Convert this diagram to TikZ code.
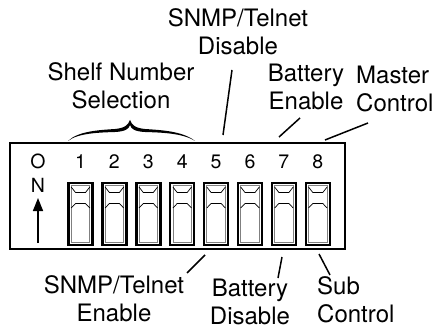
\documentclass[tikz,border=0pt]{standalone}
\usepackage{fontspec}
\setmainfont{TeX Gyre Heros}
\usetikzlibrary{arrows.meta}

\tikzset{
	lbl/.style={font=\fontsize{24}{28}\selectfont, inner sep=0pt},
	num/.style={font=\fontsize{19.5}{23}\selectfont, inner sep=0pt},
	lead/.style={line width=1.5pt}
}

\begin{document}
\begin{tikzpicture}[x=1pt,y=-1pt]
		\useasboundingbox (0,0) rectangle (436,331);
		% housing
		\draw[line width=2.5pt] (10,143) rectangle (345,249);
		\node[num] (O) at (38,161.5) {O};
		\node[num] (N) at (38,185) {N};
		\coordinate (arrbot) at (38,243);
		\coordinate (arrtop) at (38,198);
		\draw[line width=1.5pt,-{Triangle[length=13pt,width=10pt]}] (arrbot) -- (arrtop);
		% switches
		\foreach \i in {1,...,8} {
			\pgfmathsetmacro\cx{46.6+33.9*\i}
			\node[num] (n\i) at (\cx,161.5) {\i};
			\draw[line width=2.4pt] ({\cx-12},183) rectangle ({\cx+12},245);
			\draw[gray,line width=0.8pt] ({\cx-9.3},185.7) rectangle ({\cx+9.3},242.3);
			\draw[line width=0.7pt] ({\cx-9.3},187) -- ({\cx-5},192.5) -- ({\cx+5},192.5) -- ({\cx+9.3},187);
			\draw[line width=0.7pt] ({\cx-9.3},208) -- ({\cx-5},203.5) -- ({\cx+5},203.5) -- ({\cx+9.3},208);
		}
		% labels above
		\node[lbl,align=center] (snmpdis) at (238,32) {SNMP/Telnet\\Disable};
		\node[lbl,align=center] (shelf) at (121,86) {Shelf Number\\Selection};
		\node[lbl,align=center] (batten) at (306,87) {Battery\\Enable};
		\node[lbl,align=left,anchor=west] (master) at (356,89) {Master\\Control};
		% brace over switches 1 to 4
		\fill (68,141) .. controls (78,131) and (100,130) .. (115,129)
			.. controls (125,128) and (128,125) .. (130,120)
			.. controls (132,125) and (135,128) .. (145,129)
			.. controls (160,130) and (183,131) .. (195,141)
			.. controls (183,133) and (160,132.5) .. (145,132)
			.. controls (135,131.5) and (131,129) .. (130,125)
			.. controls (129,129) and (125,131.5) .. (115,132)
			.. controls (100,132.5) and (78,133) .. cycle;
		% labels below
		\node[lbl,align=center] (snmpen) at (114,299) {SNMP/Telnet\\Enable};
		\node[lbl,align=center] (battdis) at (250,302) {Battery\\Disable};
		\node[lbl,align=left,anchor=west] (sub) at (317,300) {Sub\\Control};
		% leader lines
		\coordinate (a1) at (232,70);  \coordinate (a2) at (223,135);
		\coordinate (b1) at (300,118); \coordinate (b2) at (279,137);
		\coordinate (c1) at (368,123); \coordinate (c2) at (325,140);
		\coordinate (d1) at (205,255); \coordinate (d2) at (187,273);
		\coordinate (e1) at (282,257); \coordinate (e2) at (278,278);
		\coordinate (f1) at (319,254); \coordinate (f2) at (330,275);
		\draw[lead] (a1) -- (a2);
		\draw[lead] (b1) -- (b2);
		\draw[lead] (c1) -- (c2);
		\draw[lead] (d1) -- (d2);
		\draw[lead] (e1) -- (e2);
		\draw[lead] (f1) -- (f2);
	\end{tikzpicture}
\end{document}
